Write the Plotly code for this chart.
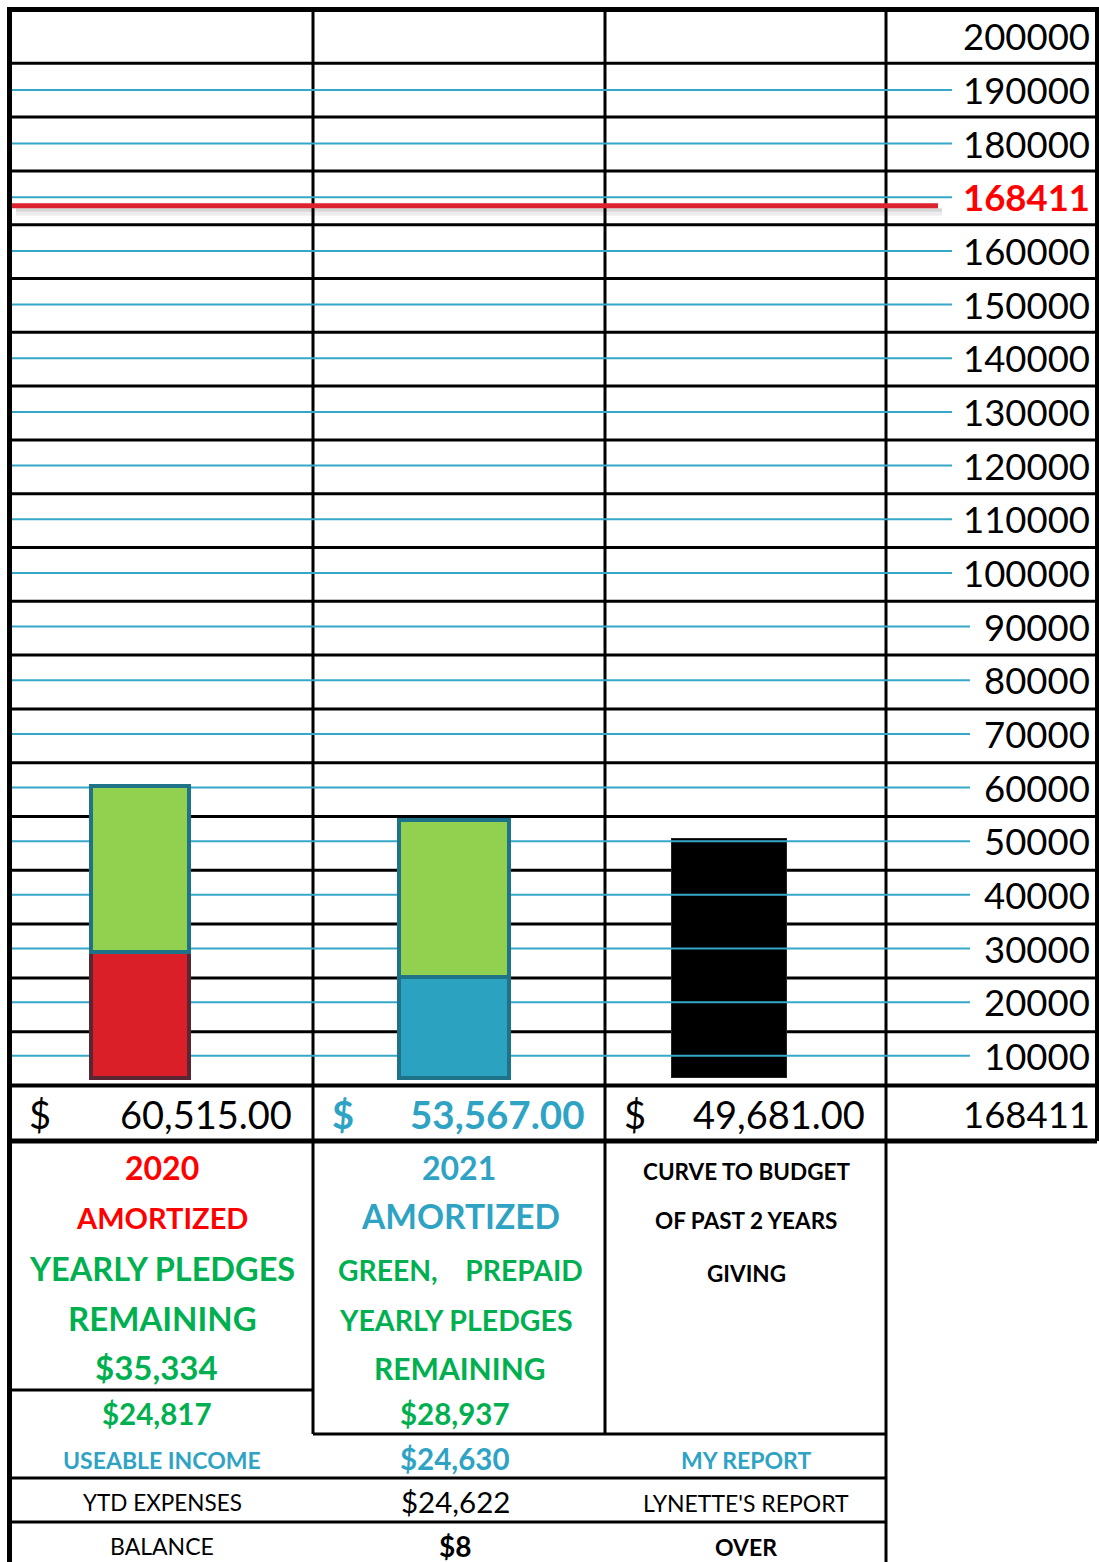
import plotly.graph_objects as go

# ---------------- data ----------------
categories = ["2020", "2021", "CURVE TO BUDGET"]
bar_totals = [60515, 53567, 49681]
lower_values = [26000, 20800]          # 2020 amortized (red), 2021 amortized (blue)
upper_values = [34515, 32767]          # green: yearly pledges remaining
curve_values = [49681]                 # curve to budget of past 2 years giving
scale_ticks = [200000, 190000, 180000, 170000, 160000, 150000, 140000, 130000,
               120000, 110000, 100000, 90000, 80000, 70000, 60000, 50000,
               40000, 30000, 20000, 10000]
scale_labels = ["200000", "190000", "180000", "168411", "160000", "150000",
                "140000", "130000", "120000", "110000", "100000", "90000",
                "80000", "70000", "60000", "50000", "40000", "30000",
                "20000", "10000"]
gridline_values = [190000, 180000, 170000, 160000, 150000, 140000, 130000,
                   120000, 110000, 100000, 90000, 80000, 70000, 60000, 50000,
                   40000, 30000, 20000, 10000]
budget_value = 168411
dollar_amounts = ["60,515.00", "53,567.00", "49,681.00"]
dollar_total = "168411"

# ---------------- layout constants ----------------
W, H = 1099, 1562
FONT = "Lato"
RED_T = "#ff0000"
GREEN_T = "#00b050"
BLUE_T = "#2fa3c3"
BLACK = "#000000"
GRID_BLUE = "#35a8c8"

BAR_BASE_PX, BAR_PX_PER_UNIT = 1077.5, 0.00481
GRID_BASE_PX, GRID_PX_PER_UNIT = 1109.5, 0.005366
bar_range = [(BAR_BASE_PX - H) / BAR_PX_PER_UNIT, BAR_BASE_PX / BAR_PX_PER_UNIT]
grid_range = [(GRID_BASE_PX - H) / GRID_PX_PER_UNIT, GRID_BASE_PX / GRID_PX_PER_UNIT]

BAR_CENTER = {"2020": 140, "2021": 454, "CURVE TO BUDGET": 728.5}
BAR_WIDTH = {"2020": 98, "2021": 110, "CURVE TO BUDGET": 115}


def pyp(p):
    return 1 - p / H


def pxp(p):
    return p / W


fig = go.Figure()

# black curve bar (base subplot, bar scale)
fig.add_trace(go.Bar(
    x=[BAR_CENTER[categories[2]]], y=curve_values, width=[BAR_WIDTH[categories[2]]],
    marker=dict(color="#000000", line=dict(color="#222222", width=1)),
    xaxis="x", yaxis="y", name=categories[2], hoverinfo="skip", showlegend=False))

# blue gridlines (grid scale)
for v, lab in zip(scale_ticks, scale_labels):
    if v not in gridline_values:
        continue
    x_end = 952 if len(lab) == 6 else 970
    fig.add_trace(go.Scatter(
        x=[12, x_end], y=[v, v], mode="lines",
        line=dict(color=GRID_BLUE, width=2),
        xaxis="x", yaxis="y2", hoverinfo="skip", showlegend=False))

# red budget line
fig.add_trace(go.Scatter(
    x=[12, 938], y=[budget_value, budget_value], mode="lines",
    line=dict(color="#dc2430", width=5),
    xaxis="x", yaxis="y2", hoverinfo="skip", showlegend=False))

# stacked bars 2020 / 2021 (overlay subplot, bar scale)
two = categories[:2]
fig.add_trace(go.Bar(
    x=[BAR_CENTER[c] for c in two], y=lower_values, width=[BAR_WIDTH[c] for c in two],
    marker=dict(color=["#da1f28", "#2ca2c1"],
                line=dict(color=["#5a2633", "#1f7389"], width=4)),
    xaxis="x", yaxis="y3", hoverinfo="skip", showlegend=False))
fig.add_trace(go.Bar(
    x=[BAR_CENTER[c] for c in two], y=upper_values, width=[BAR_WIDTH[c] for c in two],
    marker=dict(color="#92d050", line=dict(color="#1f7389", width=4)),
    xaxis="x", yaxis="y3", hoverinfo="skip", showlegend=False))

# ---------------- table shapes ----------------
shapes = []


def hline(y, x0, x1, w=3):
    shapes.append(dict(type="line", xref="paper", yref="paper",
                       x0=pxp(x0), x1=pxp(x1), y0=pyp(y), y1=pyp(y),
                       line=dict(color=BLACK, width=w), layer="below"))


def vline(x, y0, y1, w=3):
    shapes.append(dict(type="line", xref="paper", yref="paper",
                       x0=pxp(x), x1=pxp(x), y0=pyp(y0), y1=pyp(y1),
                       line=dict(color=BLACK, width=w), layer="below"))


L, R, T = 9.5, 1097, 9.5
ROW_H = 53.8
for k in range(1, 20):
    hline(T + ROW_H * k, L, R, 3)
hline(T + ROW_H * 20, L, R, 4)
hline(1141, L, R, 5)
hline(T, L - 2.5, R + 2, 5)
vline(L, T, H, 5)
vline(R, T, 1141, 4)
vline(313, T, 1434, 3)
vline(605, T, 1434, 3)
vline(886, T, H, 3)
hline(1390, L, 313, 3)
hline(1434, 313, 886, 3)
hline(1478, L, 886, 3)
hline(1522, L, 886, 3)

# soft shadow under the red line
for a, b, op in [(-2.5, -6, 0.16), (-6, -10, 0.07)]:
    shapes.append(dict(type="rect", xref="x", yref="y2", ysizemode="pixel",
                       yanchor=budget_value, y0=a, y1=b, x0=16, x1=942,
                       fillcolor=f"rgba(0,0,0,{op})", line=dict(width=0), layer="below"))

# ---------------- text ----------------
annotations = []


def txt(s, x, y, color=BLACK, size=23, bold=False, xanchor="center", yref="paper"):
    annotations.append(dict(
        text=s, x=pxp(x), y=pyp(y) if yref == "paper" else y,
        xref="paper", yref=yref, xanchor=xanchor, yanchor="middle",
        showarrow=False,
        font=dict(family=FONT, size=size, color=color,
                  weight="bold" if bold else "normal")))


# scale labels (through the grid axis)
for v, lab in zip(scale_ticks, scale_labels):
    is_budget = lab == str(budget_value)
    txt(lab, 1092, v, RED_T if is_budget else BLACK, 36.5, is_budget, "right", "y2")

# dollar row
DY = 1114
txt("$", 27, DY, BLACK, 38, False, "left")
txt(dollar_amounts[0], 294, DY, BLACK, 38, False, "right")
txt("$", 330, DY, BLUE_T, 38, True, "left")
txt(dollar_amounts[1], 586, DY, BLUE_T, 38.5, True, "right")
txt("$", 622, DY, BLACK, 38, False, "left")
txt(dollar_amounts[2], 867, DY, BLACK, 38, False, "right")
txt(dollar_total, 1092, DY, BLACK, 36.5, False, "right")

# column A
txt("2020", 162, 1167, RED_T, 32, True)
txt("AMORTIZED", 162, 1217, RED_T, 29, True)
txt("YEARLY PLEDGES", 162, 1268, GREEN_T, 32.5, True)
txt("REMAINING", 162, 1318, GREEN_T, 33, True)
txt("$35,334", 156, 1367, GREEN_T, 33, True)
txt("$24,817", 157, 1413, GREEN_T, 29.5, True)
txt("USEABLE INCOME", 162, 1460, BLUE_T, 23, True)
txt("YTD EXPENSES", 162, 1502, BLACK, 22.5)
txt("BALANCE", 162, 1546, BLACK, 23)

# column B
txt("2021", 459, 1167, BLUE_T, 32, True)
txt("AMORTIZED", 460, 1216, BLUE_T, 33.5, True)
txt("GREEN,\u00a0\u00a0\u00a0 PREPAID", 460, 1270, GREEN_T, 28.3, True)
txt("YEARLY PLEDGES", 456, 1320, GREEN_T, 28.5, True)
txt("REMAINING", 460, 1368, GREEN_T, 30, True)
txt("$28,937", 455, 1413, GREEN_T, 29.5, True)
txt("$24,630", 455, 1458, BLUE_T, 29.5, True)
txt("$24,622", 455, 1501, BLACK, 29.5)
txt("$8", 455, 1546, BLACK, 28, True)

# column C
txt("CURVE TO BUDGET", 746, 1171, BLACK, 22.5, True)
txt("OF PAST 2 YEARS", 746, 1220, BLACK, 22.5, True)
txt("GIVING", 746, 1273, BLACK, 22.5, True)
txt("MY REPORT", 746, 1460, BLUE_T, 23, True)
txt("LYNETTE'S REPORT", 746, 1503, BLACK, 23)
txt("OVER", 746, 1547, BLACK, 23, True)

fig.update_layout(
    width=W, height=H, autosize=False,
    margin=dict(l=0, r=0, t=0, b=0, pad=0),
    paper_bgcolor="white", plot_bgcolor="white",
    barmode="stack", bargap=0, showlegend=False,
    xaxis=dict(range=[0, W], domain=[0, 1], visible=False, fixedrange=True),
    yaxis=dict(range=bar_range, domain=[0, 1], visible=False, fixedrange=True),
    yaxis2=dict(range=grid_range, overlaying="y", anchor="x", visible=False, fixedrange=True),
    yaxis3=dict(range=bar_range, overlaying="y", anchor="x", visible=False, fixedrange=True),
    shapes=shapes, annotations=annotations,
)

fig.write_html("out.html", config={"displayModeBar": False, "staticPlot": True},
               post_script="document.body.style.margin='0';")
